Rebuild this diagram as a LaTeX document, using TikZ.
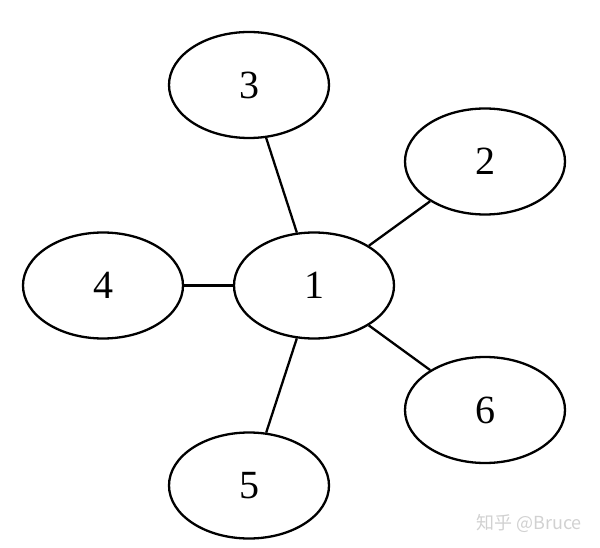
\documentclass[tikz,border=0pt]{standalone}
\usepackage{fontspec}
\setmainfont{Liberation Serif}
\newfontfamily\cjkfont{Noto Sans CJK SC}
\usetikzlibrary{shapes.geometric}
\begin{document}
\begin{tikzpicture}[x=1pt,y=-1pt,
  vert/.style={ellipse, draw, line width=2.3pt, minimum width=160pt, minimum height=106pt, inner sep=0pt, font=\fontsize{40}{48}\selectfont},
  edge/.style={line width=2.3pt}]
\useasboundingbox (0,0) rectangle (600,548);
\node[vert] (n1) at (314,285.5) {1};
\node[vert] (n2) at (485,161.5) {2};
\node[vert] (n3) at (249,85) {3};
\node[vert] (n4) at (103,285.5) {4};
\node[vert] (n5) at (249,485.5) {5};
\node[vert] (n6) at (485,410) {6};
\draw[edge] (n1) -- (n2);
\draw[edge] (n1) -- (n3);
\draw[edge] (n1) -- (n4);
\draw[edge] (n1) -- (n5);
\draw[edge] (n1) -- (n6);
\node[text=black!18, font=\cjkfont\fontsize{18}{20}\selectfont, inner sep=0pt] (wm) at (529,523) {知乎 @Bruce};
\end{tikzpicture}
\end{document}
